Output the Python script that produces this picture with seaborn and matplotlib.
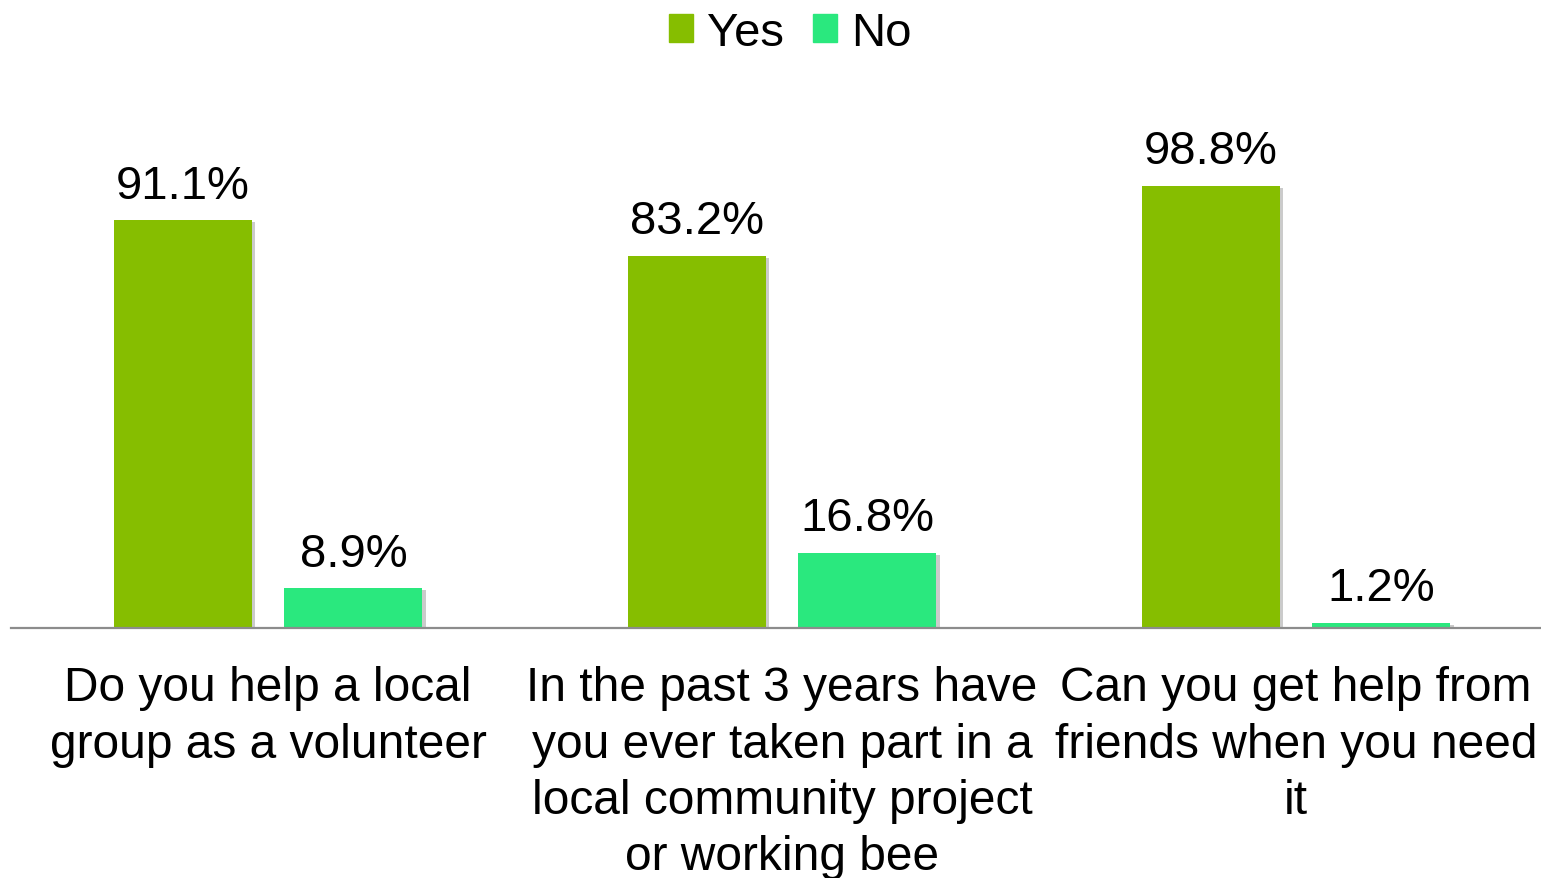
import matplotlib
matplotlib.use("Agg")
import matplotlib.pyplot as plt
import matplotlib.patheffects as pe
import pandas as pd
import seaborn as sns

questions = [
    "Do you help a local\ngroup as a volunteer",
    "In the past 3 years have\nyou ever taken part in a\nlocal community project\nor working bee",
    "Can you get help from\nfriends when you need\nit",
]
yes_values = [91.1, 83.2, 98.8]
no_values = [8.9, 16.8, 1.2]
answers = ["Yes", "No"]
palette = {"Yes": "#86BE00", "No": "#2AE87E"}

df = pd.DataFrame({
    "question": questions * 2,
    "answer": ["Yes"] * len(questions) + ["No"] * len(questions),
    "value": yes_values + no_values,
})

sns.set_theme(style="white")
plt.rcParams["font.family"] = ["Liberation Sans", "DejaVu Sans"]

W, H = 1541, 879
fig = plt.figure(figsize=(W / 100, H / 100), dpi=100)
ax = fig.add_axes([11 / W, 250 / H, 1542 / W, 537 / H])

sns.barplot(data=df, x="question", y="value", hue="answer", hue_order=answers,
            palette=palette, order=questions, width=0.664, gap=0.19,
            saturation=1, ax=ax, legend=False, linewidth=0)

shadow = [pe.SimplePatchShadow(offset=(2.5, -1.5), alpha=0.3, shadow_rgbFace="#555555"),
          pe.Normal()]
for patch in ax.patches:
    patch.set_path_effects(shadow)

for cont in ax.containers:
    ax.bar_label(cont, fmt="%.1f%%", padding=9, fontsize=34, color="black")

ax.set_ylim(0, 120)
ax.set_xlim(-0.5, 2.5)
ax.set_xlabel("")
ax.set_ylabel("")
ax.set_yticks([])
for side in ["left", "right", "top"]:
    ax.spines[side].set_visible(False)
ax.spines["bottom"].set_color("#8C8C8C")
ax.spines["bottom"].set_linewidth(1.6)
ax.tick_params(axis="x", length=0, pad=27, labelsize=34.5, labelcolor="black")
for lbl in ax.get_xticklabels():
    lbl.set_linespacing(1.32)

handles = [plt.Rectangle((0, 0), 1, 1, color=palette[a]) for a in answers]
fig.legend(handles, answers, loc="upper center", bbox_to_anchor=(790 / W, 1.035),
           ncol=2, frameon=False, fontsize=34, labelcolor="black",
           handlelength=0.52, handleheight=0.52,
           handletextpad=0.28, columnspacing=0.62)

fig.savefig("out.png", dpi=100)
